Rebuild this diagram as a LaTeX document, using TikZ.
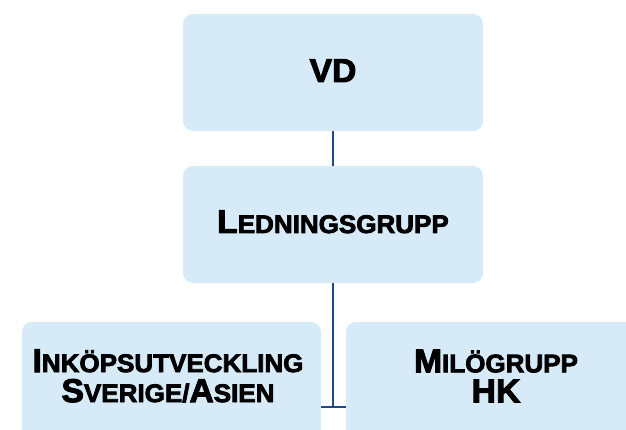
\documentclass[tikz,border=0pt]{standalone}
\usepackage{fontspec}
\newfontfamily\hfont[FakeStretch=1.02,FakeBold=3]{Liberation Sans Bold}
\newcommand\bigsm[2]{{\fontsize{33}{30}\selectfont #1}{\fontsize{25.5}{30}\selectfont #2}}
\definecolor{boxfill}{HTML}{D6EAF8}
\definecolor{linecol}{HTML}{1B4A8C}
\begin{document}
\begin{tikzpicture}[x=1pt,y=-1pt,
  orgbox/.style={fill=boxfill,draw=none,rounded corners=10pt},
  lbl/.style={font=\hfont\fontsize{33}{30}\selectfont,align=center,inner sep=0pt,text=black},
  conn/.style={draw=linecol,line width=2.8pt}]
\useasboundingbox (0,0) rectangle (626,430);
\begin{scope}
\clip (0,0) rectangle (626,430);
\fill[orgbox] (183,14) rectangle (483,131);
\fill[orgbox] (183,166) rectangle (483,283);
\fill[orgbox] (22,322) rectangle (321,470);
\fill[orgbox] (346,322) rectangle (680,470);
\end{scope}
\coordinate (vdb) at (333,131);
\coordinate (lgt) at (333,166);
\coordinate (lgb) at (333,283);
\coordinate (j) at (333,407);
\coordinate (jl) at (321,407);
\coordinate (jr) at (346,407);
\node[lbl,anchor=base] (vd) at (333,82) {VD};
\node[lbl,anchor=base] (lg) at (333,233) {\bigsm{L}{EDNINGSGRUPP}};
\node[lbl] (ink) at (168,376) {\bigsm{I}{NKÖPSUTVECKLING}\\\bigsm{S}{VERIGE/}\bigsm{A}{SIEN}};
\node[lbl] (mil) at (496,376) {\bigsm{M}{ILÖGRUPP}\\HK};
\draw[conn] (vdb) -- (lgt);
\draw[conn] (lgb) -- (j);
\draw[conn] (jl) -- (jr);
\end{tikzpicture}
\end{document}
